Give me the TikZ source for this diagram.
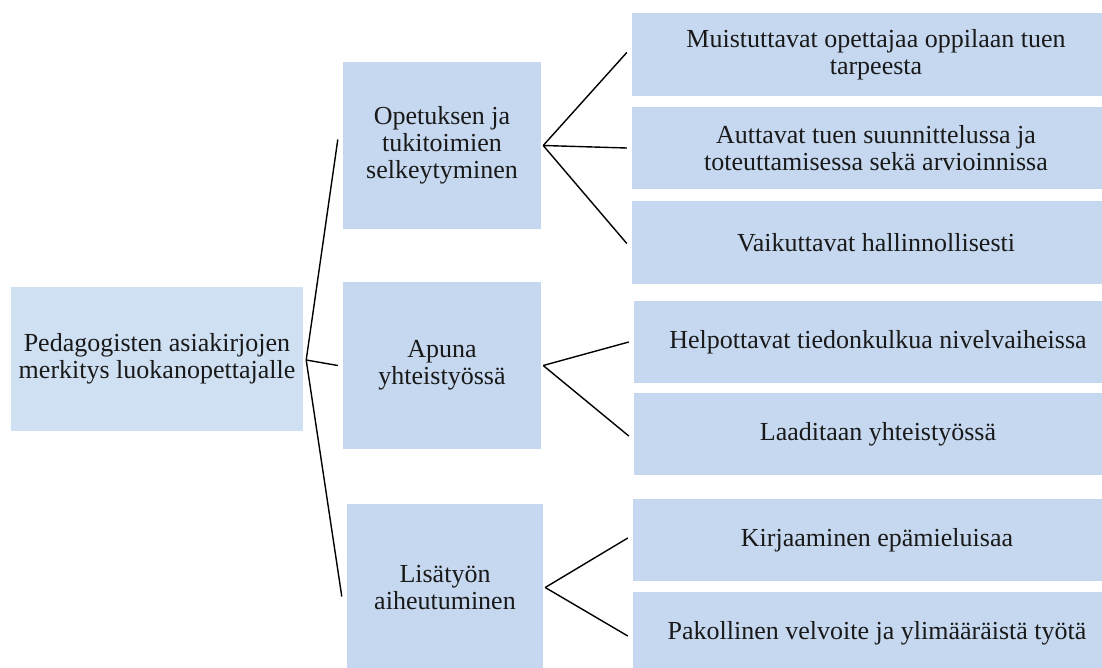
\documentclass[tikz,border=0pt]{standalone}
\usepackage{fontspec}
\setmainfont{Liberation Serif}
\begin{document}
\begin{tikzpicture}[x=1pt,y=-1pt,
  box/.style={fill=boxblue, draw=none, inner sep=0pt, align=center,
    font=\fontsize{26}{27}\selectfont, text=black!90},
  rootbox/.style={box, fill=rootblue, minimum width=292pt, minimum height=144pt},
  midbox/.style={box, minimum width=198pt, minimum height=167pt},
  leafbox/.style={box, minimum width=488pt, minimum height=82.5pt},
  conn/.style={draw=black, line width=1.4pt}]
\definecolor{boxblue}{RGB}{198,216,239}
\definecolor{rootblue}{RGB}{207,224,243}
\clip (0,0) rectangle (1102,668);
\fill[white] (0,0) rectangle (1102,668);

% root
\node[rootbox] (root) at (157,359) {Pedagogisten asiakirjojen\\merkitys luokanopettajalle};

% second level
\node[midbox] (m1) at (442,145.5) {Opetuksen ja\\tukitoimien\\selkeytyminen};
\node[midbox] (m2) at (442,365.5) {Apuna\\yhteistyössä};
\node[midbox, minimum width=196pt] (m3) at (445,587.5) {Lisätyön\\aiheutuminen};

% third level
\node[leafbox] (l1) at (876,54.5) {Muistuttavat opettajaa oppilaan tuen\\tarpeesta};
\node[leafbox] (l2) at (876,148) {Auttavat tuen suunnittelussa ja\\toteuttamisessa sekä arvioinnissa};
\node[leafbox] (l3) at (876,242.5) {Vaikuttavat hallinnollisesti};
\node[leafbox] (l4) at (878,342) {Helpottavat tiedonkulkua nivelvaiheissa};
\node[leafbox] (l5) at (878,434) {Laaditaan yhteistyössä};
\node[leafbox] (l6) at (877,540) {Kirjaaminen epämieluisaa};
\node[leafbox] (l7) at (877,633) {Pakollinen velvoite ja ylimääräistä työtä};

% root connectors
\draw[conn] ([xshift=3pt,yshift=-1pt]root.east) -- ([xshift=-5pt,yshift=6pt]m1.west);
\draw[conn] ([xshift=3pt,yshift=-1pt]root.east) -- ([xshift=-5pt]m2.west);
\draw[conn] ([xshift=3pt,yshift=-1pt]root.east) -- ([xshift=-5pt,yshift=-9pt]m3.west);

% branch connectors
\draw[conn] ([xshift=2pt]m1.east) -- ([xshift=-5pt,yshift=2pt]l1.west);
\draw[conn] ([xshift=2pt]m1.east) -- ([xshift=-5pt]l2.west);
\draw[conn] ([xshift=2pt]m1.east) -- ([xshift=-5pt,yshift=-1pt]l3.west);
\draw[conn] ([xshift=2pt]m2.east) -- ([xshift=-5pt]l4.west);
\draw[conn] ([xshift=2pt]m2.east) -- ([xshift=-5pt,yshift=-2pt]l5.west);
\draw[conn] ([xshift=2pt]m3.east) -- ([xshift=-5pt,yshift=2pt]l6.west);
\draw[conn] ([xshift=2pt]m3.east) -- ([xshift=-5pt,yshift=-3pt]l7.west);
\end{tikzpicture}
\end{document}
